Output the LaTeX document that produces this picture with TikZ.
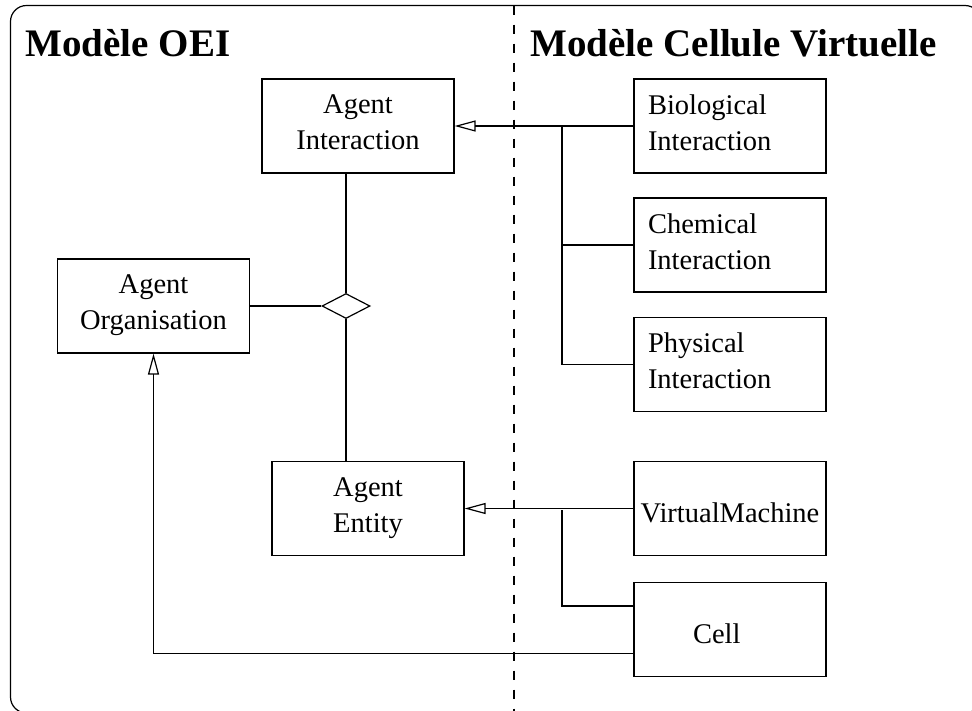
\documentclass[tikz,border=0pt]{standalone}
\usepackage{fontspec}
\setmainfont{Liberation Serif}
\usepackage{tikz}
\usetikzlibrary{arrows.meta,shapes.geometric}

\tikzset{
    box/.style={draw,line width=1.2pt,minimum width=192pt,minimum height=94pt,
                font=\fontsize{28.5}{36}\selectfont},
    twoline/.style={text width=164pt,text depth=43pt},
    oneline/.style={text height=28pt}
}

\begin{document}
\begin{tikzpicture}[x=1pt,y=-1pt]
            \clip (0,0) rectangle (972,710);
            \draw [line width=1.2pt, rounded corners=16pt] (10.5,5.5) rectangle (981,713);
            \draw [line width=1.2pt, dash pattern=on 9pt off 10pt] (514,5.5) -- (514,712);

            \begin{scope}[every node/.style={anchor=base west,font=\fontsize{39}{46}\selectfont\bfseries}]
                \node (oei) at (22,56) {Modèle OEI};
                \node (cv) at (527,56) {Modèle Cellule Virtuelle};
            \end{scope}

            \begin{scope}[every node/.style={box}]
                \node [twoline,align=center] (AI) at (358,126) {Agent\\Interaction};
                \node [twoline,align=center] (AO) at (153.5,306) {Agent\\Organisation};
                \node [twoline,align=center] (AE) at (368,508.5) {Agent\\Entity};
                \node [twoline,align=left] (BI) at (730,126) {Biological\\Interaction};
                \node [twoline,align=left] (CI) at (730,245) {Chemical\\Interaction};
                \node [twoline,align=left] (PI) at (730,364.5) {Physical\\Interaction};
                \node [oneline] (VM) at (730,508.5) {VirtualMachine};
                \node [oneline,text width=164pt,align=left] (CE) at (730,629.5) {\hspace*{45pt}Cell};
            \end{scope}

            \node [draw,diamond,line width=1.2pt,minimum width=48pt,minimum height=25pt,inner sep=0pt] (D) at (346,306) {};

            \begin{scope}[line width=1.2pt, >={Triangle[open,length=21pt,width=11pt]}]
                \coordinate (b1) at (562,126);
                \coordinate (b2) at (562,510);

                \draw [->] (BI.west) -- (AI.east);
                \draw (b1) |- (CI.west);
                \draw (b1) |- (PI.west);

                \draw [->] (VM.west) -- (AE.east);
                \draw (b2) |- ([yshift=23.5pt]CE.west);
                \draw [->] ([yshift=-24pt]CE.west) -| (AO.south);

                \draw (AO.east) -- (D.west);
                \draw (D.north) -- (D.north |- AI.south);
                \draw (D.south) -- (D.south |- AE.north);
            \end{scope}
\end{tikzpicture}
\end{document}
